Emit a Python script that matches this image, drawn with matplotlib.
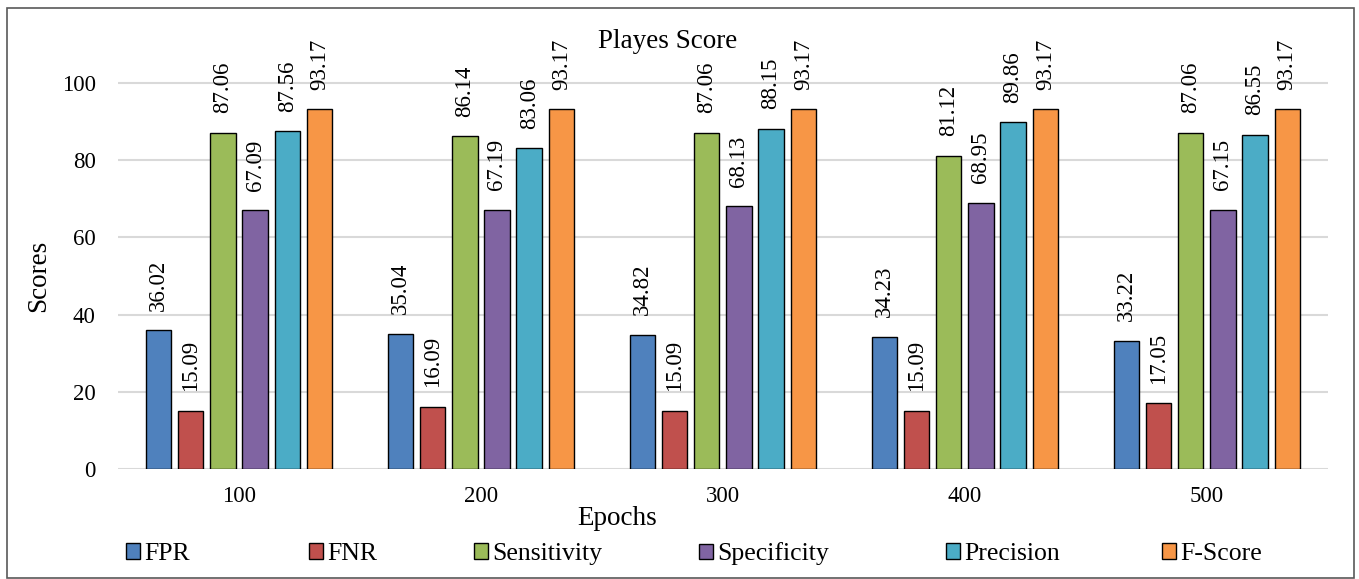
import numpy as np
import matplotlib
matplotlib.use("Agg")
import matplotlib.pyplot as plt
from matplotlib.patches import Patch, Rectangle

plt.rcParams['font.family'] = ['Liberation Serif', 'DejaVu Serif']

# Data
epochs = ['100', '200', '300', '400', '500']
fpr = [36.02, 35.04, 34.82, 34.23, 33.22]
fnr = [15.09, 16.09, 15.09, 15.09, 17.05]
sensitivity = [87.06, 86.14, 87.06, 81.12, 87.06]
specificity = [67.09, 67.19, 68.13, 68.95, 67.15]
precision = [87.56, 83.06, 88.15, 89.86, 86.55]
fscore = [93.17, 93.17, 93.17, 93.17, 93.17]

series = [('FPR', fpr, '#4F81BD'),
          ('FNR', fnr, '#C0504D'),
          ('Sensitivity', sensitivity, '#9BBB59'),
          ('Specificity', specificity, '#8064A2'),
          ('Precision', precision, '#4BACC6'),
          ('F-Score', fscore, '#F79646')]

fig = plt.figure(figsize=(13.59, 5.79), dpi=100)
ax = fig.add_axes([0.0868, 0.19, 0.8902, 0.70])

x = np.arange(len(epochs))
pitch = 0.133
width = 0.105
for i, (name, vals, col) in enumerate(series):
    pos = x + (i - 2.5) * pitch
    bars = ax.bar(pos, vals, width, color=col, edgecolor='black', linewidth=1.0,
                  zorder=3, label=name)
    for b, v in zip(bars, vals):
        ax.annotate(f'{v:.2f}', (b.get_x() + b.get_width() / 2, v),
                    xytext=(0, 14), textcoords='offset points',
                    ha='center', va='bottom', rotation=90, fontsize=16.5,
                    annotation_clip=False)

ax.set_xlim(-0.5, len(epochs) - 0.5)
ax.set_ylim(0, 105)
ax.set_yticks(range(0, 101, 20))
ax.set_xticks(x)
ax.set_xticklabels(epochs)
ax.tick_params(axis='both', length=0, labelsize=16.5)
ax.tick_params(axis='y', pad=16)
ax.tick_params(axis='x', pad=12)
ax.grid(axis='y', color='#D9D9D9', linewidth=1.5, zorder=0)
for s in ax.spines.values():
    s.set_visible(False)

fig.text(0.0285, 0.523, 'Scores', rotation=90, ha='center', va='center', fontsize=19.5)
fig.text(0.454, 0.104, 'Epochs', ha='center', va='center', fontsize=19.5)
fig.text(0.4915, 0.928, 'Playes Score', ha='center', va='center', fontsize=19.5)

# legend entries placed individually to follow the reference spacing
leg_x = [126, 309, 474, 699, 946, 1162]
for (name, vals, col), lx in zip(series, leg_x):
    h = Patch(facecolor=col, edgecolor='black', linewidth=1.0)
    lg = fig.legend(handles=[h], labels=[name], loc='center left',
                    bbox_to_anchor=(lx / 1359, 1 - 554 / 579), frameon=False,
                    fontsize=18.5, handlelength=0.55, handleheight=0.55,
                    handletextpad=0.15, borderpad=0, borderaxespad=0)

fig.patches.append(Rectangle((7 / 1359, 0.002), 1347 / 1359, 1 - 8 / 579 - 0.002,
                             transform=fig.transFigure, fill=False,
                             edgecolor='#595959', linewidth=1.2))

fig.savefig('out.png', dpi=100)
